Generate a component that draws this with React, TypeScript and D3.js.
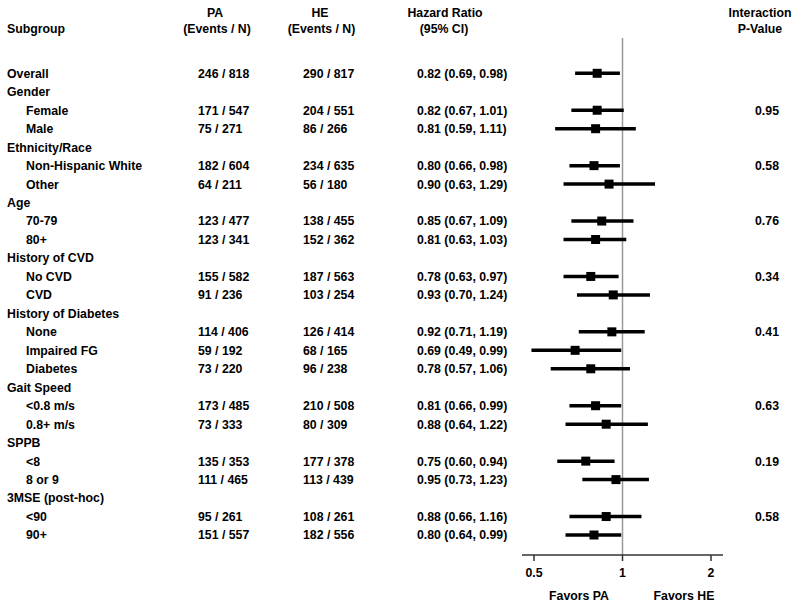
import React from "react";
import * as d3 from "d3";

type Row = {
  label: string;
  indent: boolean;
  pa?: string;
  he?: string;
  hr?: number;
  lo?: number;
  hi?: number;
  p?: string;
};

const labels = [
  "Overall", "Gender", "Female", "Male", "Ethnicity/Race", "Non-Hispanic White", "Other",
  "Age", "70-79", "80+", "History of CVD", "No CVD", "CVD", "History of Diabetes", "None",
  "Impaired FG", "Diabetes", "Gait Speed", "<0.8 m/s", "0.8+ m/s", "SPPB", "<8", "8 or 9",
  "3MSE (post-hoc)", "<90", "90+",
];
const indented = [
  false, false, true, true, false, true, true, false, true, true, false, true, true, false, true,
  true, true, false, true, true, false, true, true, false, true, true,
];
const paEvents = [
  "246 / 818", "", "171 / 547", "75 / 271", "", "182 / 604", "64 / 211", "", "123 / 477", "123 / 341",
  "", "155 / 582", "91 / 236", "", "114 / 406", "59 / 192", "73 / 220", "", "173 / 485", "73 / 333",
  "", "135 / 353", "111 / 465", "", "95 / 261", "151 / 557",
];
const heEvents = [
  "290 / 817", "", "204 / 551", "86 / 266", "", "234 / 635", "56 / 180", "", "138 / 455", "152 / 362",
  "", "187 / 563", "103 / 254", "", "126 / 414", "68 / 165", "96 / 238", "", "210 / 508", "80 / 309",
  "", "177 / 378", "113 / 439", "", "108 / 261", "182 / 556",
];
const hrValues: (number | null)[] = [
  0.82, null, 0.82, 0.81, null, 0.80, 0.90, null, 0.85, 0.81, null, 0.78, 0.93, null, 0.92,
  0.69, 0.78, null, 0.81, 0.88, null, 0.75, 0.95, null, 0.88, 0.80,
];
const ciLower: (number | null)[] = [
  0.69, null, 0.67, 0.59, null, 0.66, 0.63, null, 0.67, 0.63, null, 0.63, 0.70, null, 0.71,
  0.49, 0.57, null, 0.66, 0.64, null, 0.60, 0.73, null, 0.66, 0.64,
];
const ciUpper: (number | null)[] = [
  0.98, null, 1.01, 1.11, null, 0.98, 1.29, null, 1.09, 1.03, null, 0.97, 1.24, null, 1.19,
  0.99, 1.06, null, 0.99, 1.22, null, 0.94, 1.23, null, 1.16, 0.99,
];
const pValues = [
  "", "", "0.95", "", "", "0.58", "", "", "0.76", "", "", "0.34", "", "", "0.41", "", "", "",
  "0.63", "", "", "0.19", "", "", "0.58", "",
];
const tickValues = [0.5, 1, 2];
const tickLabels = ["0.5", "1", "2"];

const W = 800;
const H = 607;
const FONT = "Arial, 'Liberation Sans', Helvetica, sans-serif";

const fmt = (v: number) => v.toFixed(2);

export default function App() {
  const rows: Row[] = labels.map((l, i) => ({
    label: l,
    indent: indented[i],
    pa: paEvents[i],
    he: heEvents[i],
    hr: hrValues[i] ?? undefined,
    lo: ciLower[i] ?? undefined,
    hi: ciUpper[i] ?? undefined,
    p: pValues[i],
  }));

  const x = d3.scaleLog().base(2).domain([0.5, 2]).range([534, 711]);
  const y = d3
    .scalePoint<number>()
    .domain(d3.range(rows.length))
    .range([73.3, 535]);

  const axisY = 555;
  const textStyle: React.CSSProperties = {
    fontFamily: FONT,
    fontSize: 12.3,
    fontWeight: "bold",
    fill: "#000",
  };

  return (
    <svg
      width={W}
      height={H}
      style={{ position: "absolute", left: 0, top: 0, background: "#fff", display: "block" }}
    >
      <rect x={0} y={0} width={W} height={H} fill="#fff" />
      <g style={textStyle}>
        {/* headers */}
        <text x={7} y={33}>Subgroup</text>
        <text x={215} y={17} textAnchor="middle">PA</text>
        <text x={217} y={33} textAnchor="middle">(Events / N)</text>
        <text x={320} y={17} textAnchor="middle">HE</text>
        <text x={321.5} y={33} textAnchor="middle">(Events / N)</text>
        <text x={445} y={17} textAnchor="middle">Hazard Ratio</text>
        <text x={444} y={33} textAnchor="middle">(95% CI)</text>
        <text x={760} y={17} textAnchor="middle">Interaction</text>
        <text x={760} y={33} textAnchor="middle">P-Value</text>

        {rows.map((r, i) => {
          const cy = y(i)!;
          return (
            <g key={i}>
              <text x={r.indent ? 26 : 7} y={cy} dy="0.36em">{r.label}</text>
              {r.pa ? <text x={198} y={cy} dy="0.36em">{r.pa}</text> : null}
              {r.he ? <text x={303} y={cy} dy="0.36em">{r.he}</text> : null}
              {r.hr !== undefined ? (
                <text x={417} y={cy} dy="0.36em">
                  {`${fmt(r.hr)} (${fmt(r.lo!)}, ${fmt(r.hi!)})`}
                </text>
              ) : null}
              {r.p ? (
                <text x={767} y={cy} dy="0.36em" textAnchor="middle">{r.p}</text>
              ) : null}
            </g>
          );
        })}
      </g>

      {/* reference line */}
      <line x1={x(1)} x2={x(1)} y1={38} y2={axisY} stroke="#999" strokeWidth={1.5} />

      {/* CIs and markers */}
      {rows.map((r, i) =>
        r.hr !== undefined ? (
          <g key={"m" + i}>
            <line
              x1={x(r.lo!)}
              x2={x(r.hi!)}
              y1={y(i)!}
              y2={y(i)!}
              stroke="#000"
              strokeWidth={3.5}
            />
            <rect x={x(r.hr) - 4.5} y={y(i)! - 4.5} width={9} height={9} fill="#000" />
          </g>
        ) : null
      )}

      {/* axis */}
      <line x1={x(0.5) - 12} x2={x(2) + 12} y1={axisY} y2={axisY} stroke="#333" strokeWidth={1.5} />
      {tickValues.map((t, i) => (
        <g key={"t" + i}>
          <line x1={x(t)} x2={x(t)} y1={axisY} y2={axisY + 6} stroke="#333" strokeWidth={1.5} />
          <text x={x(t)} y={577} textAnchor="middle" style={textStyle}>{tickLabels[i]}</text>
        </g>
      ))}
      <text x={579} y={600} textAnchor="middle" style={textStyle}>Favors PA</text>
      <text x={684} y={600} textAnchor="middle" style={textStyle}>Favors HE</text>
    </svg>
  );
}
